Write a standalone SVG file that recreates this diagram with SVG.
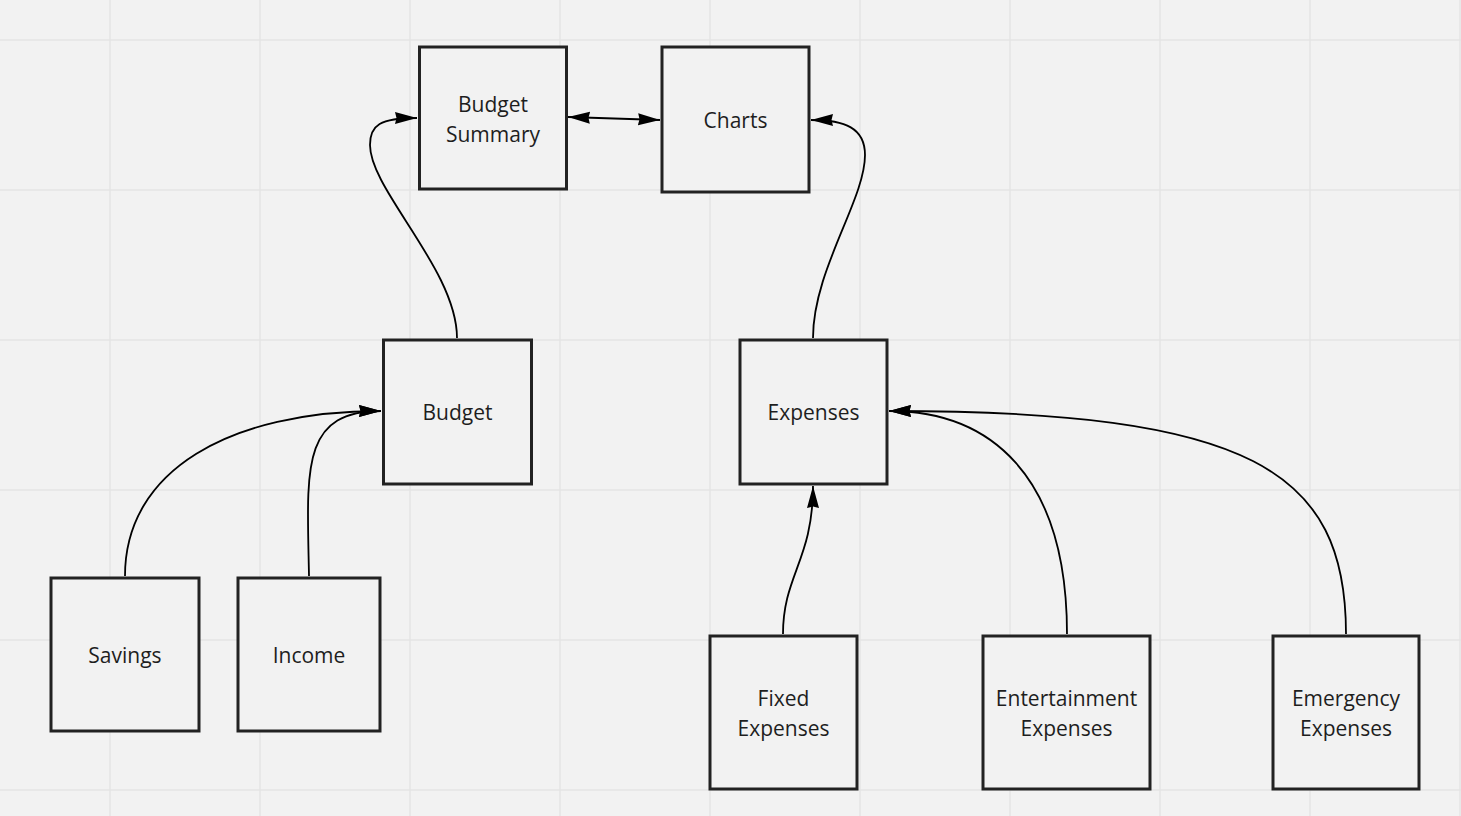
<svg xmlns="http://www.w3.org/2000/svg" width="1461" height="816" viewBox="0 0 1461 816">
<defs>
<style>
.node rect{fill:#f2f2f2;stroke:#222;stroke-width:3}
.node text{font-family:"Open Sans","Noto Sans",sans-serif;font-size:21px;fill:#1e1e1e;text-anchor:middle}
.conn path,.conn line{fill:none;stroke:#000;stroke-width:1.8}
.grid line{stroke:#e4e4e4;stroke-width:1.5}
</style>
<marker id="arr" markerUnits="userSpaceOnUse" markerWidth="24" markerHeight="14" refX="22" refY="6" orient="auto-start-reverse" viewBox="0 0 24 14">
<path d="M0,0 L22,6 L0,12 L1.5,6 z" fill="#000"/>
</marker>
</defs>
<rect width="1461" height="816" fill="#f2f2f2"/>
<g class="grid">
<line x1="110" y1="0" x2="110" y2="816"/><line x1="260" y1="0" x2="260" y2="816"/><line x1="410" y1="0" x2="410" y2="816"/><line x1="560" y1="0" x2="560" y2="816"/><line x1="710" y1="0" x2="710" y2="816"/><line x1="860" y1="0" x2="860" y2="816"/><line x1="1010" y1="0" x2="1010" y2="816"/><line x1="1160" y1="0" x2="1160" y2="816"/><line x1="1310" y1="0" x2="1310" y2="816"/><line x1="1460" y1="0" x2="1460" y2="816"/>
<line x1="0" y1="40" x2="1461" y2="40"/><line x1="0" y1="190" x2="1461" y2="190"/><line x1="0" y1="340" x2="1461" y2="340"/><line x1="0" y1="490" x2="1461" y2="490"/><line x1="0" y1="640" x2="1461" y2="640"/><line x1="0" y1="790" x2="1461" y2="790"/>
</g>
<g class="conn">
<path d="M457,338 C457,270 370,190 370,145 C370,125 380,118 417,118" marker-end="url(#arr)"/>
<path d="M813,338 C813,270 865,200 865,155 C865,128 845,120 811,120" marker-end="url(#arr)"/>
<line x1="568" y1="117" x2="660" y2="120" marker-start="url(#arr)" marker-end="url(#arr)"/>
<path d="M125,576 C125,470 230,411 381,411" marker-end="url(#arr)"/>
<path d="M309,576 C307,470 300,411 381,411" marker-end="url(#arr)"/>
<path d="M783,634 C783,575 813,560 813,486" marker-end="url(#arr)"/>
<path d="M1067,634 C1067,475 990,411 889,411" marker-end="url(#arr)"/>
<path d="M1346,634 C1346,470 1250,411 889,411" marker-end="url(#arr)"/>
</g>
<g id="budget-summary" class="node"><rect x="419.5" y="47" width="147" height="142"/><text x="493" y="112">Budget</text><text x="493" y="142">Summary</text></g>
<g id="charts" class="node"><rect x="662" y="47" width="147" height="145"/><text x="735.5" y="128">Charts</text></g>
<g id="budget" class="node"><rect x="383.5" y="340" width="148" height="144"/><text x="457.5" y="420">Budget</text></g>
<g id="expenses" class="node"><rect x="740" y="340" width="147" height="144"/><text x="813.5" y="420">Expenses</text></g>
<g id="savings" class="node"><rect x="51" y="578" width="148" height="153"/><text x="125" y="663">Savings</text></g>
<g id="income" class="node"><rect x="238" y="578" width="142" height="153"/><text x="309" y="663">Income</text></g>
<g id="fixed-expenses" class="node"><rect x="710" y="636" width="147" height="153"/><text x="783.5" y="706">Fixed</text><text x="783.5" y="736">Expenses</text></g>
<g id="entertainment-expenses" class="node"><rect x="983" y="636" width="167" height="153"/><text x="1066.5" y="706">Entertainment</text><text x="1066.5" y="736">Expenses</text></g>
<g id="emergency-expenses" class="node"><rect x="1273" y="636" width="146" height="153"/><text x="1346" y="706">Emergency</text><text x="1346" y="736">Expenses</text></g>
</svg>
